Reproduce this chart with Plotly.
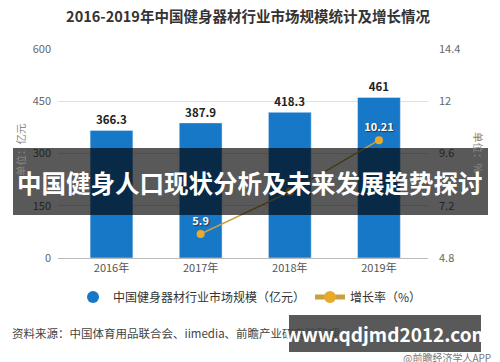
import plotly.graph_objects as go

years = ["2016年", "2017年", "2018年", "2019年"]
market_size = [366.3, 387.9, 418.3, 461]
growth_years = ["2017年", "2018年", "2019年"]
growth_rate = [5.9, 7.84, 10.21]
growth_text = ["5.9", "", "10.21"]

BLUE = "#1878c8"
GOLD = "#e9aa2b"
LINE = "#c8a040"

fig = go.Figure()
fig.add_trace(go.Bar(
    x=[0, 1, 2, 3], y=market_size, width=0.48, marker_color=BLUE,
    text=[f"{v:g}" for v in market_size], textposition="outside",
    textfont=dict(size=11.5, color="#222", family="Noto Sans CJK SC", weight="bold"),
    cliponaxis=False, showlegend=False, name="market"))
fig.add_trace(go.Scatter(
    x=[None], y=[None], mode="markers",
    marker=dict(symbol="circle", size=12, color=BLUE),
    name="中国健身器材行业市场规模（亿元）"))
fig.add_trace(go.Scatter(
    x=[years.index(y) for y in growth_years], y=growth_rate, yaxis="y2",
    mode="lines+markers+text", text=growth_text, textposition="top center",
    textfont=dict(size=11, color="white", family="Noto Sans CJK SC", weight="bold",
                  shadow="1px 1px 1px #333"),
    line=dict(color=LINE, width=1.5),
    marker=dict(color=GOLD, size=8),
    cliponaxis=False,
    name="增长率（%）"))

fig.update_layout(
    width=492, height=354, autosize=False,
    margin=dict(l=50, r=72, t=41, b=104),
    paper_bgcolor="white", plot_bgcolor="white",
    font=dict(family="Noto Sans CJK SC", size=11, color="#666"),
    title=dict(text="<b>2016-2019年中国健身器材行业市场规模统计及增长情况</b>",
               x=(248 - 8) / 492, xanchor="center", y=1 - 9 / 354, yanchor="middle",
               font=dict(size=14.5, color="#333")),
    xaxis=dict(tickmode="array", tickvals=[0, 1, 2, 3], ticktext=years,
               range=[-0.6, 3.55], showgrid=False, showline=True,
               linecolor="#bbb", linewidth=1, ticks="", zeroline=False,
               tickfont=dict(size=11, color="#555")),
    yaxis=dict(range=[0, 600], dtick=150, showgrid=True, gridcolor="#e0e0e0",
               zeroline=False, ticks="", tickfont=dict(size=11, color="#666"),
               ticklabelstandoff=6),
    yaxis2=dict(range=[4.8, 14.4], dtick=2.4, overlaying="y", side="right",
                showgrid=False, zeroline=False, ticks="",
                tickfont=dict(size=11, color="#666"), ticklabelstandoff=10),
    legend=dict(orientation="h", x=(250 - 58) / 370, xanchor="center", y=-0.187,
                yanchor="middle", font=dict(size=12, color="#333"),
                itemsizing="constant", itemwidth=30, tracegroupgap=0),
    bargap=0.5,
)

fig.add_annotation(text="单位：亿元", xref="paper", yref="paper",
                   x=(20 - 58) / 370, xanchor="center", y=(258 - 150) / 209,
                   yanchor="middle", textangle=-90, showarrow=False,
                   font=dict(size=10.5, color="#888"))
fig.add_annotation(text="单位：%", xref="paper", yref="paper",
                   x=(479 - 58) / 370, xanchor="center", y=(258 - 153) / 209,
                   yanchor="middle", textangle=90, showarrow=False,
                   font=dict(size=10.5, color="#888"))

fig.add_annotation(text="资料来源：中国体育用品联合会、iimedia、前瞻产业研究院整理",
                   xref="paper", yref="paper", x=(10 - 58) / 370, xanchor="left",
                   y=(258 - 333) / 209, yanchor="middle", showarrow=False,
                   font=dict(size=11.5, color="#444"))
fig.add_annotation(text="@前瞻经济学人APP", xref="paper", yref="paper",
                   x=(493 - 58) / 370, xanchor="right", y=(258 - 357) / 209,
                   yanchor="middle", showarrow=False, font=dict(size=10, color="#777"))

# overlay banner
fig.add_shape(type="rect", xref="paper", yref="paper",
              x0=(13 - 58) / 370, x1=(488 - 58) / 370,
              y0=(258 - 215) / 209, y1=(258 - 148) / 209,
              fillcolor="rgba(0,0,0,0.65)", line_width=0, layer="above")
fig.add_annotation(text="<b>中国健身人口现状分析及未来发展趋势探讨</b>",
                   xref="paper", yref="paper", x=(250 - 58) / 370, xanchor="center",
                   y=(258 - 182) / 209, yanchor="middle", showarrow=False,
                   font=dict(size=24.5, color="white"))
fig.add_shape(type="rect", xref="paper", yref="paper",
              x0=(289 - 58) / 370, x1=(481 - 58) / 370,
              y0=(258 - 352) / 209, y1=(258 - 315) / 209,
              fillcolor="rgba(60,60,60,0.85)", line_width=0, layer="above")
fig.add_annotation(text="<b>www.qdjmd2012.com</b>", xref="paper", yref="paper",
                   x=(387 - 58) / 370, xanchor="center", y=(258 - 333) / 209,
                   yanchor="middle", showarrow=False, font=dict(size=19, color="white"))

fig.write_html("out.html")
